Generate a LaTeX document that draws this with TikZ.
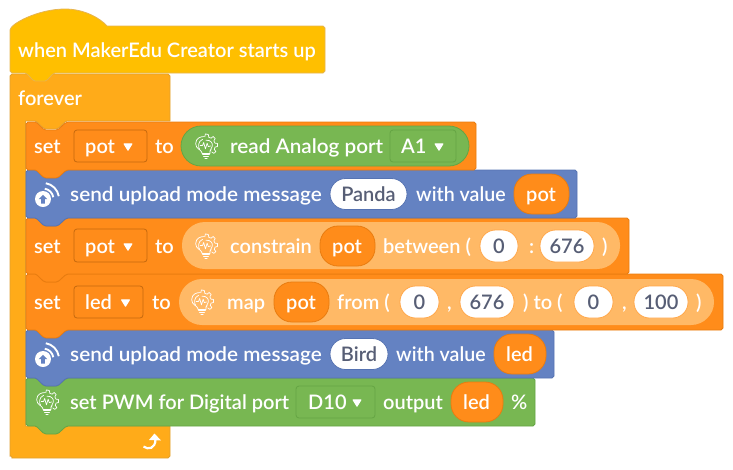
\documentclass[tikz,border=0pt]{standalone}
\usepackage{fontspec}
\setmainfont{Lato}[UprightFont=*-Semibold]
\usetikzlibrary{calc}
\definecolor{hatfill}{HTML}{FFBF00}\definecolor{hatline}{HTML}{E6B450}
\definecolor{ctrlfill}{HTML}{FFAB19}\definecolor{ctrlline}{HTML}{E0A030}
\definecolor{setfill}{HTML}{FF8C1A}\definecolor{setline}{HTML}{E87C10}
\definecolor{bluefill}{HTML}{6482C2}\definecolor{blueline}{HTML}{5673B2}
\definecolor{grnfill}{HTML}{78B752}\definecolor{grnline}{HTML}{65A544}
\definecolor{lightor}{HTML}{FFB966}
\definecolor{inktxt}{HTML}{575E75}
\tikzset{x=1pt,y=-1pt,
 txt/.style={font=\fontsize{20}{22}\selectfont,text=white,inner sep=0pt,anchor=base west},
 dark/.style={font=\fontsize{20}{22}\selectfont,text=inktxt,inner sep=0pt,anchor=base},
 blockline/.style={line width=.8pt},
 pill/.style={fill=white,draw=#1,line width=.8pt,rounded corners=15.5pt},
 oval/.style={draw=setline,fill=setfill,line width=.8pt,rounded corners=18pt},
 drop/.style={draw=#1,line width=.8pt,rounded corners=3pt},
}
% stack block: x1,y1,x2,y2,fill,line
\newcommand{\stackblk}[6]{%
 \draw[blockline,fill=#5,draw=#6] (#1,#2+2) to[out=-90,in=180] (#1+2,#2) -- (#1+9,#2)
  .. controls (#1+12,#2) and (#1+16,#2+8) .. (#1+20,#2+8) -- (#1+30,#2+8)
  .. controls (#1+34,#2+8) and (#1+38,#2) .. (#1+42,#2)
  -- (#3-2,#2) to[out=0,in=-90] (#3,#2+2) -- (#3,#4-2) to[out=90,in=0] (#3-2,#4)
  -- (#1+42,#4) .. controls (#1+38,#4) and (#1+34,#4+8) .. (#1+30,#4+8) -- (#1+20,#4+8)
  .. controls (#1+16,#4+8) and (#1+12,#4) .. (#1+9,#4)
  -- (#1+2,#4) to[out=180,in=90] (#1,#4-2) -- cycle;}
\newcommand{\bulbicon}[1]{%
 \begin{scope}[shift={(#1)},scale=1.15,draw=white,line width=.7pt,line cap=round,line join=round]
  \draw (-3.5,6) .. controls (-3.5,3.5) and (-9,2.5) .. (-9,-2) .. controls (-9,-7) and (-4,-8.5) .. (-1.5,-8.2);
  \draw (-5.5,3) .. controls (-7,1) and (-7.2,-4) .. (-3,-5.8);
  \draw (3.5,6) -- (3.5,4.5) -- (4.5,3.2);
  \draw (-3,7.4) -- (3,7.4) (-2.2,9) -- (2.2,9) (-1,10.5) -- (1,10.5);
  \draw (-3.5,6) -- (3.5,6);
  \draw (-1,-8.2) -- (-0.5,-10.5) -- (2,-10) -- (2.5,-7.5) -- (4.5,-6.8) -- (6.2,-8.3) -- (8,-6.5) -- (6.8,-4.5) -- (7.8,-2.5) -- (10,-2.2) -- (10,0.4) -- (7.8,1) -- (7.2,3) -- (8.6,4.8) -- (6.8,6.4) -- (5,5.2);
  \draw (0,-5) .. controls (4,-5.5) and (6,-2.5) .. (5.5,0) .. controls (5.2,2) and (4.5,3) .. (3.5,4.5);
  \draw (-5,-0.5) -- (-3,-0.5) -- (-2,-3) -- (-0.5,2.5) -- (1,-2.5) -- (2,0.5) -- (4,0);
 \end{scope}}
\newcommand{\uploadicon}[1]{%
 \begin{scope}[shift={(#1)}]
  \fill[white] (-4,5) circle[radius=8];
  \fill[bluefill] (-4,0.8) -- (0.4,5.2) -- (-2.2,5.2) -- (-2.2,9.5) -- (-5.8,9.5) -- (-5.8,5.2) -- (-8.4,5.2) -- cycle;
  \draw[white,line width=1.9pt] (-2.2,-5.3) arc[start angle=-80,end angle=-10,radius=10.5];
  \draw[white,line width=1.9pt] (-1.2,-10.8) arc[start angle=-80,end angle=-10,radius=16];
 \end{scope}}
\newcommand{\tri}[1]{\path[fill=white,draw=white,line width=1.2pt,line join=round,shift={(#1)}] (-3.8,-3.6) -- (3.8,-3.6) -- (0,2.6) -- cycle;}
\begin{document}
\begin{tikzpicture}
\useasboundingbox (0,0) rectangle (733,469);
% forever
\draw[blockline,fill=ctrlfill,draw=ctrlline] (10,76) to[out=-90,in=180] (12,74) -- (168,74) to[out=0,in=-90] (170,76)
  -- (170,121) -- (67,121) .. controls (64,121) and (60,129) .. (56,129) -- (46,129) .. controls (42,129) and (38,121) .. (35,121)
  -- (25.5,121) -- (25.5,426) -- (170,426) -- (170,456) to[out=90,in=0] (168,458) -- (12,458) to[out=0,in=90] (10,456) -- cycle;
% loop arrow
\draw[white,line width=2.2pt] (143.5,446.5) .. controls (148,450) and (155.5,449) .. (155.5,439);
\fill[white] (154.5,433.5) -- (161,440.5) -- (149,440) -- cycle;
% stack, bottom up
\stackblk{26}{378}{535}{426}{grnfill}{grnline}
\stackblk{26}{330}{554}{378}{bluefill}{blueline}
\stackblk{26}{274}{723}{330}{setfill}{setline}
\stackblk{26}{218}{629}{274}{setfill}{setline}
\stackblk{26}{170}{577}{218}{bluefill}{blueline}
\stackblk{26}{122}{476}{170}{setfill}{setline}
% hat
\draw[blockline,fill=hatfill,draw=hatline] (10,30) .. controls (10,24) and (38,9) .. (65,9) .. controls (84,9) and (100,18) .. (107,26)
  -- (323,26) to[out=0,in=-90] (325,28) -- (325,71) to[out=90,in=0] (323,73) -- (55,73)
  .. controls (52,73) and (48,81) .. (45,81) -- (35,81) .. controls (32,81) and (28,73) .. (25,73)
  -- (12,73) to[out=180,in=90] (10,71) -- cycle;
\node[txt] (hatlabel) at (18,57.5) {when MakerEdu Creator starts up};
\node[txt] (foreverlabel) at (18,105) {forever};
% row 1
\node[txt] (s1) at (34,153) {set};
\draw[drop=setline!85!black,fill=setfill] (74,130) rectangle (147,162);
\node[txt] (s1v) at (85,153) {pot}; \tri{128,147.5}
\node[txt] (s1to) at (155,153) {to};
\draw[grnline,fill=grnfill,line width=.8pt,rounded corners=20pt] (181,126) rectangle (469,166);
\bulbicon{206,146}
\node[txt] (s1r) at (230,153) {\scalebox{1.034}[1]{read Analog port}};
\draw[drop=grnline,fill=grnfill] (390,130) rectangle (456,162);
\node[txt] (s1p) at (401,153) {A1}; \tri{439,147.5}
% row 2
\uploadicon{47,194}
\node[txt] (b1) at (70,201) {\scalebox{1.037}[1]{send upload mode message}};
\draw[pill=blueline] (330,178.5) rectangle (407,209.5);
\node[dark] (b1n) at (368.5,201) {Panda};
\node[txt] (b1w) at (416,201) {\scalebox{.98}[1]{with value}};
\draw[oval] (514,174) rectangle (569,214);
\node[txt] (b1p) at (526,201) {pot};
% row 3
\node[txt] (s2) at (34,253) {set};
\draw[drop=setline!85!black,fill=setfill] (74,229) rectangle (147,262);
\node[txt] (s2v) at (85,253) {pot}; \tri{128,247.5}
\node[txt] (s2to) at (155,253) {to};
\draw[draw=none,fill=lightor,rounded corners=23pt] (182,222) rectangle (620,269);
\bulbicon{206,246}
\node[txt] (s2c) at (230,253) {constrain};
\draw[oval] (320,226) rectangle (375,266);
\node[txt] (s2p) at (332,253) {pot};
\node[txt] (s2b) at (383,253) {between (};
\draw[pill=lightor!60!setfill] (480,230) rectangle (518,262);
\node[dark] (s2a) at (499,253) {0};
\node[txt] (s2col) at (529,253) {:};
\draw[pill=lightor!60!setfill] (540,230) rectangle (594,262);
\node[dark] (s2d) at (567,253) {676};
\node[txt] (s2e) at (602,253) {)};
% row 4
\node[txt] (s3) at (34,309) {set};
\draw[drop=setline!85!black,fill=setfill] (74,286) rectangle (143,318);
\node[txt] (s3v) at (85,309) {led}; \tri{125.5,303.5}
\node[txt] (s3to) at (152,309) {to};
\draw[draw=none,fill=lightor,rounded corners=23pt] (179,279) rectangle (714,325);
\bulbicon{202,302}
\node[txt] (s3m) at (227,309) {map};
\draw[oval] (274,282) rectangle (329,322);
\node[txt] (s3p) at (286,309) {pot};
\node[txt] (s3f) at (337,309) {from (};
\draw[pill=lightor!60!setfill] (400,286) rectangle (439,318);
\node[dark] (s3a) at (419.5,309) {0};
\node[txt] (s3c1) at (447,309) {,};
\draw[pill=lightor!60!setfill] (460,286) rectangle (514,318);
\node[dark] (s3b) at (487,309) {676};
\node[txt] (s3t) at (523,309) {) to (};
\draw[pill=lightor!60!setfill] (574,286) rectangle (613,318);
\node[dark] (s3cc) at (593.5,309) {0};
\node[txt] (s3c2) at (622,309) {,};
\draw[pill=lightor!60!setfill] (634,286) rectangle (688,318);
\node[dark] (s3d) at (661,309) {100};
\node[txt] (s3e) at (696,309) {)};
% row 5
\uploadicon{47,354}
\node[txt] (b2) at (70,361) {\scalebox{1.037}[1]{send upload mode message}};
\draw[pill=blueline] (330,338.5) rectangle (388,369.5);
\node[dark] (b2n) at (359,361) {Bird};
\node[txt] (b2w) at (396,361) {\scalebox{.98}[1]{with value}};
\draw[oval] (494,334) rectangle (546,374);
\node[txt] (b2p) at (506,361) {led};
% row 6
\bulbicon{47,402}
\node[txt] (g) at (70,409) {set PWM for Digital port};
\draw[drop=grnline,fill=grnfill] (296,386) rectangle (375,418);
\node[txt] (gd) at (308,409) {D10}; \tri{357,403.5}
\node[txt] (go) at (383,409) {output};
\draw[oval] (451,382) rectangle (503,422);
\node[txt] (gl) at (463,409) {led};
\node[txt] (gp) at (511,409) {\%};
\end{tikzpicture}
\end{document}
